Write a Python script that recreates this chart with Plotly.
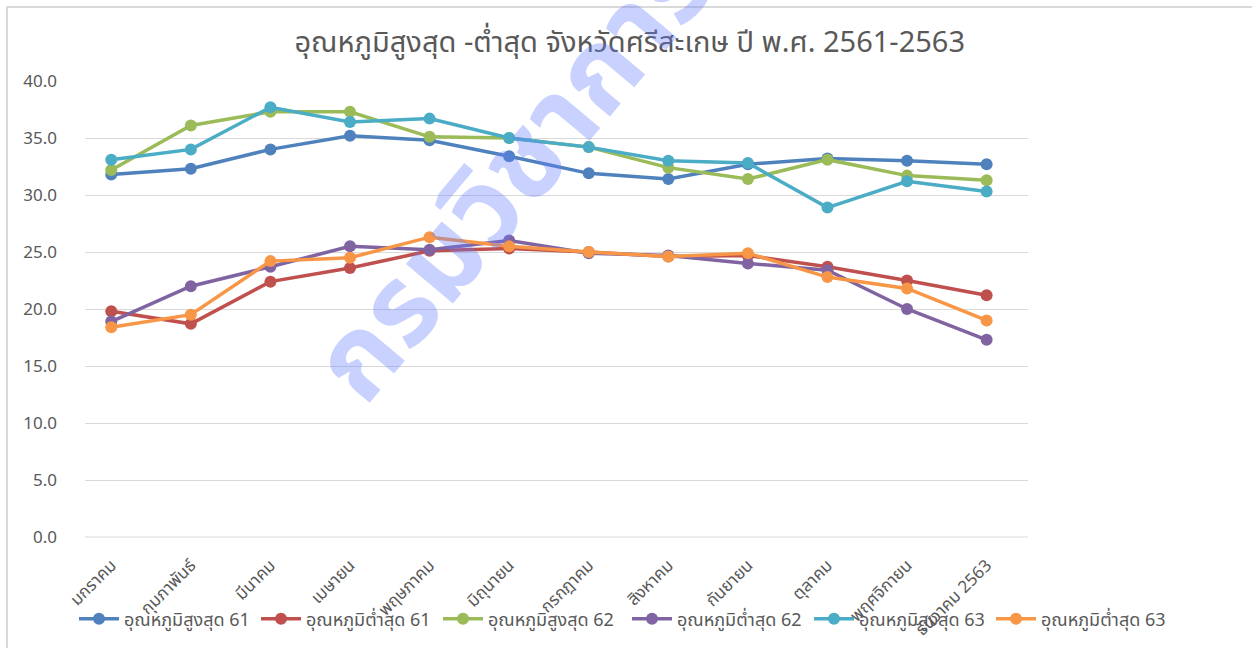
import plotly.graph_objects as go

months = ["มกราคม", "กุมภาพันธ์", "มีนาคม", "เมษายน", "พฤษภาคม", "มิถุนายน",
          "กรกฎาคม", "สิงหาคม", "กันยายน", "ตุลาคม", "พฤศจิกายน", "ธันวาคม 2563"]

max_61 = [31.8, 32.3, 34.0, 35.2, 34.8, 33.4, 31.9, 31.4, 32.7, 33.2, 33.0, 32.7]
min_61 = [19.8, 18.7, 22.4, 23.6, 25.1, 25.3, 25.0, 24.6, 24.7, 23.7, 22.5, 21.2]
max_62 = [32.2, 36.1, 37.3, 37.3, 35.1, 35.0, 34.2, 32.4, 31.4, 33.1, 31.7, 31.3]
min_62 = [18.9, 22.0, 23.7, 25.5, 25.2, 26.0, 24.9, 24.7, 24.0, 23.4, 20.0, 17.3]
max_63 = [33.1, 34.0, 37.7, 36.4, 36.7, 35.0, 34.2, 33.0, 32.8, 28.9, 31.2, 30.3]
min_63 = [18.4, 19.5, 24.2, 24.5, 26.3, 25.5, 25.0, 24.6, 24.9, 22.8, 21.8, 19.0]

series_names = ["อุณหภูมิสูงสุด 61", "อุณหภูมิต่ำสุด 61", "อุณหภูมิสูงสุด 62",
                "อุณหภูมิต่ำสุด 62", "อุณหภูมิสูงสุด 63", "อุณหภูมิต่ำสุด 63"]
series_values = [max_61, min_61, max_62, min_62, max_63, min_63]
colors = ["#4F81BD", "#C0504D", "#9BBB59", "#8064A2", "#4BACC6", "#F79646"]

title_text = "อุณหภูมิสูงสุด -ต่ำสุด จังหวัดศรีสะเกษ ปี พ.ศ. 2561-2563"
watermark = "กรมวิชาการ"

FONT = "'Noto Sans Thai', 'Noto Sans Thai UI', Tahoma, 'Noto Sans', sans-serif"

fig = go.Figure()
for i, (name, vals, col) in enumerate(zip(series_names, series_values, colors)):
    fig.add_trace(go.Scatter(
        x=months, y=vals, name=name, mode="lines+markers",
        line=dict(color=col, width=3.5),
        marker=dict(color=col, size=12),
        legend="legend" if i < 3 else "legend2",
    ))

legend_common = dict(orientation="h", xref="container", yref="container",
                     xanchor="left", y=(648 - 619) / 648, yanchor="middle",
                     font=dict(size=18, color="#595959", family=FONT),
                     bgcolor="rgba(0,0,0,0)", itemwidth=40, tracegroupgap=0,
                     entrywidth=127, entrywidthmode="pixels")

fig.update_layout(
    width=1252, height=648,
    paper_bgcolor="white", plot_bgcolor="white",
    margin=dict(l=85, r=224, t=81, b=111),
    font=dict(family=FONT, color="#595959", size=17),
    title=dict(text=title_text, x=0.503, xanchor="center", y=0.935, yanchor="middle",
               font=dict(size=29, color="#595959", family=FONT)),
    showlegend=True,
    legend=dict(x=74 / 1252, **legend_common),
    legend2=dict(x=627 / 1252, **legend_common),
    xaxis=dict(tickangle=-45, showgrid=False, showline=False, ticks="",
               range=[-0.33, 11.52], automargin=False, ticklabelstandoff=14,
               tickfont=dict(size=17, color="#595959")),
    yaxis=dict(range=[0, 40], dtick=5, tickformat=".1f", showgrid=True,
               gridcolor="#D9D9D9", gridwidth=1, zeroline=False, showline=False,
               ticklabelstandoff=27, automargin=False,
               tickfont=dict(size=17, color="#595959")),
)

fig.add_shape(type="line", xref="paper", yref="paper",
              x0=0, x1=1, y0=0, y1=0, line=dict(color="#D9D9D9", width=1), layer="below")

# chart frame
fig.add_shape(type="rect", xref="paper", yref="paper",
              x0=(7 - 85) / 943, x1=(1270 - 85) / 943,
              y0=(537 - 660) / 456, y1=(537 - 7) / 456,
              line=dict(color="#D9D9D9", width=2), fillcolor="rgba(0,0,0,0)")

fig.add_annotation(text=watermark, xref="paper", yref="paper",
                   x=(515 - 85) / 943, y=(537 - 175) / 456,
                   xanchor="center", yanchor="middle",
                   showarrow=False, textangle=-50,
                   font=dict(size=112, weight="bold", color="rgba(100,125,255,0.35)", family=FONT))

fig.write_html("out.html", config={"displayModeBar": False},
               post_script="document.body.style.margin='0';")
